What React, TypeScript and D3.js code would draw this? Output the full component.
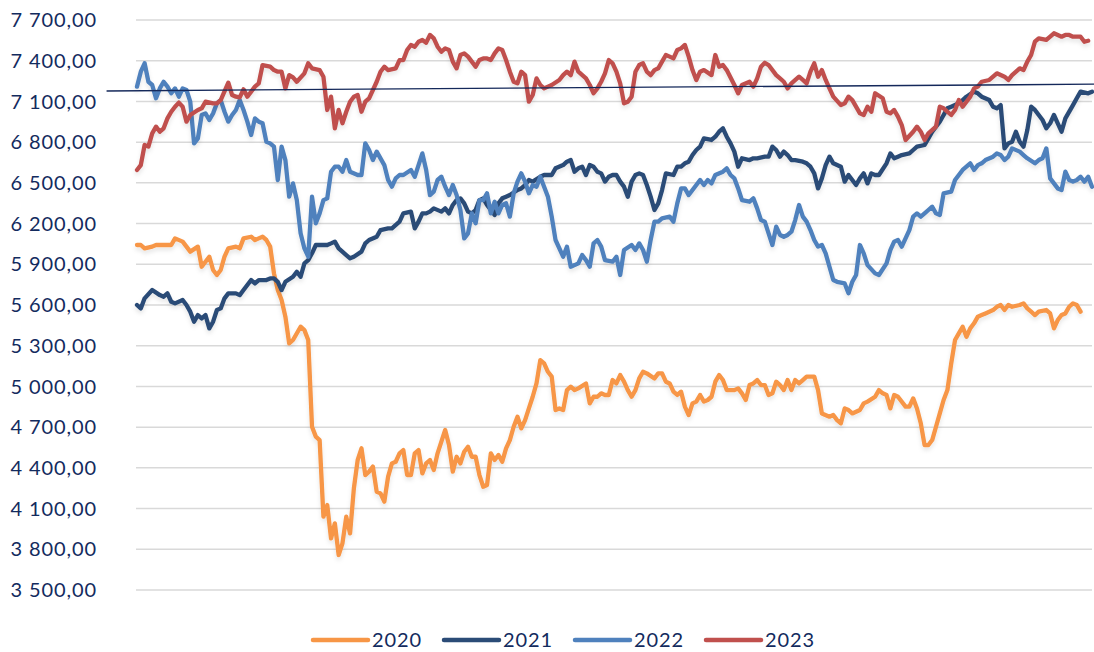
import { useEffect, useRef } from "react";
import * as d3 from "d3";

// y axis tick values
const yTicks = [3500, 3800, 4100, 4400, 4700, 5000, 5300, 5600, 5900, 6200, 6500, 6800, 7100, 7400, 7700];

const years = ["2020", "2021", "2022", "2023"];
const colors = ["#F79646", "#2B4C77", "#4F81BD", "#C0504D"];

// [trading day, index value]
const s2020: [number, number][] = [
  [0,6042],[1,6042],[2,6017],[4,6030],[5,6042],[6,6042],[8,6042],[9,6042],[10,6091],[12,6067],[13,6030],[14,5993],[16,6030],[17,5882],[18,5919],[19,5956],[20,5858],[21,5821],[22,5858],[23,5956],[24,6017],[26,6030],[27,6017],[28,6091],[30,6103],[31,6079],[32,6091],[33,6103],[34,6079],[35,6030],[36,5833],[37,5710],[38,5637],[39,5514],[40,5317],[41,5342],[43,5440],[44,5415],[45,5342],[46,4703],[47,4630],[48,4605],[49,4040],[50,4126],[51,3880],[52,3991],[53,3758],[54,3844],[55,4040],[56,3917],[57,4249],[58,4458],[59,4544],[60,4347],[61,4372],[62,4409],[63,4224],[64,4212],[65,4151],[66,4335],[67,4433],[68,4445],[69,4507],[70,4531],[71,4347],[72,4347],[73,4507],[74,4531],[75,4359],[76,4433],[77,4458],[78,4384],[79,4507],[80,4593],[81,4679],[82,4568],[83,4372],[84,4482],[85,4433],[86,4519],[87,4556],[88,4482],[89,4482],[90,4347],[91,4261],[92,4274],[93,4507],[94,4458],[95,4495],[96,4445],[97,4544],[98,4605],[99,4703],[100,4777],[101,4691],[102,4752],[103,4838],[104,4924],[105,5022],[106,5194],[107,5170],[108,5108],[109,5072],[110,4826],[111,4838],[112,4826],[113,4973],[114,4998],[115,4973],[116,4986],[118,5022],[119,4875],[120,4924],[121,4924],[122,4949],[123,4937],[124,4937],[125,5047],[126,5022],[127,5084],[128,5035],[129,4973],[130,4924],[131,4973],[132,5059],[133,5108],[134,5096],[136,5059],[137,5096],[138,5096],[139,5035],[140,5022],[141,4961],[142,4937],[143,4961],[144,4851],[145,4789],[146,4875],[147,4888],[148,4937],[149,4888],[150,4900],[151,4924],[152,5035],[153,5084],[154,5047],[155,4973],[157,4973],[158,4986],[159,4949],[160,4900],[161,5010],[162,5022],[163,5047],[164,5010],[165,5010],[166,4937],[167,4949],[168,5035],[169,5010],[170,4973],[171,5047],[172,4973],[173,5047],[174,5022],[175,5047],[176,5072],[178,5072],[179,4973],[180,4801],[182,4777],[183,4789],[184,4752],[185,4728],[186,4838],[187,4826],[188,4801],[190,4826],[191,4875],[192,4888],[194,4924],[195,4973],[196,4949],[197,4937],[198,4838],[199,4937],[200,4924],[202,4851],[203,4851],[204,4912],[205,4838],[206,4728],[207,4568],[208,4568],[209,4605],[210,4703],[211,4801],[212,4900],[213,4973],[214,5170],[215,5342],[216,5391],[217,5440],[218,5366],[219,5428],[220,5465],[221,5514],[222,5526],[223,5538],[225,5563],[226,5587],[227,5600],[228,5563],[229,5600],[230,5587],[232,5600],[233,5612],[234,5575],[235,5551],[236,5526],[237,5551],[239,5563],[240,5538],[241,5428],[242,5489],[243,5526],[244,5538],[245,5587],[246,5612],[247,5600],[248,5551],
];

const s2021: [number, number][] = [
  [0,5600],[1,5575],[2,5649],[4,5710],[6,5673],[7,5661],[8,5686],[9,5624],[10,5612],[12,5637],[13,5600],[14,5551],[15,5477],[16,5526],[17,5501],[18,5526],[19,5428],[20,5477],[21,5563],[22,5575],[23,5649],[24,5686],[26,5686],[27,5673],[28,5710],[30,5784],[31,5759],[32,5784],[34,5784],[35,5796],[36,5796],[37,5771],[38,5710],[39,5771],[41,5808],[42,5845],[43,5808],[44,5907],[45,5931],[46,5981],[47,6042],[48,6042],[50,6042],[51,6054],[52,6067],[53,6017],[55,5968],[56,5944],[57,5956],[59,5993],[60,6054],[61,6079],[63,6103],[64,6152],[66,6165],[67,6165],[69,6214],[70,6275],[72,6288],[73,6165],[74,6214],[75,6275],[76,6275],[77,6288],[78,6312],[80,6288],[81,6312],[82,6275],[83,6337],[84,6373],[85,6386],[86,6349],[87,6288],[88,6275],[89,6300],[90,6373],[91,6386],[92,6337],[94,6263],[95,6349],[96,6386],[97,6398],[98,6410],[100,6447],[101,6459],[102,6484],[103,6521],[104,6509],[106,6545],[107,6558],[108,6558],[109,6558],[110,6607],[112,6631],[113,6656],[114,6668],[115,6582],[116,6607],[117,6619],[118,6558],[119,6631],[120,6619],[121,6582],[122,6570],[123,6509],[124,6545],[125,6558],[126,6558],[127,6509],[128,6472],[129,6398],[130,6509],[131,6558],[132,6570],[133,6558],[134,6484],[135,6398],[136,6300],[137,6349],[138,6447],[139,6570],[141,6558],[142,6619],[143,6619],[144,6644],[145,6656],[146,6705],[147,6742],[148,6767],[149,6828],[151,6816],[152,6840],[153,6877],[154,6902],[155,6840],[156,6791],[157,6730],[158,6619],[159,6681],[161,6668],[162,6681],[163,6681],[165,6693],[166,6693],[167,6767],[168,6742],[169,6693],[170,6730],[171,6705],[172,6668],[173,6668],[175,6656],[176,6644],[177,6619],[178,6570],[179,6459],[180,6533],[181,6631],[182,6693],[183,6644],[185,6619],[186,6509],[187,6558],[188,6521],[189,6484],[190,6533],[191,6570],[192,6496],[193,6570],[194,6558],[195,6558],[197,6644],[198,6717],[199,6681],[200,6693],[201,6705],[203,6717],[204,6742],[205,6767],[207,6779],[208,6828],[209,6877],[211,6951],[212,7000],[213,7049],[214,7061],[216,7086],[217,7110],[218,7135],[220,7172],[221,7160],[222,7135],[224,7110],[225,7061],[226,7049],[227,7073],[228,6754],[229,6791],[230,6803],[231,6877],[232,6803],[233,6767],[234,6889],[235,7061],[236,7037],[237,7000],[238,6963],[239,6902],[240,6939],[241,7000],[242,6939],[243,6877],[244,6975],[246,7073],[247,7123],[248,7172],[250,7160],[251,7172],
];

const s2022: [number, number][] = [
  [0,7209],[1,7319],[2,7381],[3,7245],[4,7221],[5,7123],[6,7196],[7,7245],[8,7209],[9,7160],[10,7196],[11,7135],[12,7196],[13,7184],[14,7098],[15,6791],[16,6828],[17,7000],[18,7012],[19,6963],[20,7012],[21,7086],[22,7110],[23,7024],[24,6951],[25,7000],[26,7037],[27,7110],[28,7037],[29,6951],[30,6853],[31,6975],[32,6951],[33,6939],[34,6803],[35,6791],[36,6767],[37,6521],[38,6767],[39,6668],[40,6398],[41,6496],[42,6373],[43,6128],[44,6017],[45,5956],[46,6398],[47,6202],[48,6275],[49,6373],[50,6386],[51,6582],[52,6619],[53,6619],[54,6582],[55,6668],[56,6582],[58,6558],[59,6558],[60,6791],[61,6742],[62,6668],[63,6730],[65,6631],[66,6521],[67,6472],[68,6533],[69,6558],[70,6558],[72,6595],[73,6545],[74,6631],[75,6717],[76,6595],[77,6410],[78,6435],[79,6521],[80,6545],[81,6472],[82,6410],[83,6484],[84,6410],[85,6300],[86,6091],[87,6128],[88,6275],[89,6202],[90,6373],[91,6373],[92,6423],[93,6275],[94,6361],[95,6275],[96,6337],[97,6349],[98,6251],[99,6423],[100,6509],[101,6570],[102,6509],[103,6423],[104,6484],[105,6472],[106,6545],[107,6472],[108,6398],[109,6251],[110,6079],[112,5956],[113,6030],[114,5882],[115,5894],[116,5907],[117,5968],[118,5931],[119,5882],[120,6054],[121,6079],[122,6030],[123,5931],[125,5919],[126,5956],[127,5821],[128,6005],[130,6042],[131,6005],[132,6054],[133,6005],[134,5919],[135,6079],[136,6214],[137,6214],[138,6239],[140,6251],[141,6214],[142,6349],[143,6459],[144,6459],[145,6410],[147,6484],[148,6521],[149,6484],[150,6521],[151,6496],[152,6558],[154,6582],[155,6607],[156,6558],[157,6533],[158,6459],[159,6373],[161,6361],[162,6386],[163,6312],[164,6226],[165,6214],[166,6128],[167,6042],[168,6177],[169,6116],[170,6103],[171,6116],[172,6140],[173,6226],[174,6337],[175,6251],[176,6214],[177,6152],[178,6079],[179,6030],[180,6042],[181,5981],[182,5882],[183,5784],[184,5771],[186,5759],[187,5686],[188,5771],[189,5821],[190,6042],[191,5981],[192,5894],[194,5833],[195,5821],[197,5907],[198,6005],[199,6067],[200,6079],[201,6030],[202,6091],[203,6152],[204,6251],[205,6275],[206,6251],[207,6275],[208,6300],[209,6324],[210,6275],[211,6263],[212,6423],[214,6435],[215,6521],[217,6595],[218,6619],[219,6644],[220,6595],[221,6631],[222,6644],[223,6668],[225,6693],[226,6717],[227,6705],[228,6668],[229,6693],[230,6754],[232,6730],[233,6705],[234,6681],[236,6644],[237,6668],[238,6681],[239,6754],[240,6533],[242,6459],[243,6447],[244,6582],[245,6521],[246,6509],[247,6521],[248,6545],[249,6509],[250,6545],[251,6472],
];

const s2023: [number, number][] = [
  [0,6595],[1,6631],[2,6779],[3,6767],[4,6865],[5,6914],[6,6877],[7,6902],[8,6975],[9,7024],[10,7061],[11,7091],[12,7061],[13,6951],[14,7000],[16,7037],[17,7049],[18,7098],[20,7086],[21,7086],[22,7110],[24,7238],[25,7147],[26,7135],[27,7130],[28,7189],[29,7135],[31,7209],[32,7233],[33,7368],[35,7356],[36,7331],[37,7319],[38,7319],[39,7196],[40,7294],[41,7277],[42,7245],[44,7307],[45,7381],[46,7344],[48,7331],[49,7282],[50,7037],[51,7135],[52,6902],[53,7037],[54,6939],[55,7024],[56,7098],[57,7135],[58,7147],[59,7024],[60,7098],[61,7123],[63,7245],[64,7319],[65,7356],[66,7331],[68,7344],[69,7405],[70,7405],[71,7479],[72,7516],[73,7503],[74,7540],[75,7553],[76,7533],[77,7590],[78,7565],[79,7503],[80,7466],[81,7491],[82,7479],[83,7393],[84,7344],[85,7442],[86,7454],[87,7430],[88,7393],[89,7356],[90,7405],[91,7417],[92,7417],[93,7405],[94,7454],[95,7491],[96,7479],[97,7405],[98,7319],[99,7245],[100,7233],[101,7319],[102,7294],[103,7098],[104,7147],[105,7270],[106,7221],[107,7196],[108,7209],[109,7221],[111,7258],[112,7294],[113,7319],[114,7294],[115,7393],[116,7319],[118,7270],[119,7221],[120,7160],[121,7196],[122,7245],[123,7307],[124,7405],[125,7381],[126,7319],[127,7233],[128,7086],[129,7098],[130,7135],[131,7319],[132,7368],[133,7381],[134,7319],[135,7294],[136,7331],[137,7344],[138,7393],[139,7442],[140,7430],[141,7417],[142,7479],[143,7491],[144,7516],[145,7430],[146,7331],[147,7258],[148,7319],[149,7331],[151,7294],[152,7442],[153,7356],[154,7368],[155,7331],[157,7221],[158,7160],[159,7221],[161,7245],[162,7209],[163,7270],[164,7356],[165,7385],[166,7368],[168,7294],[169,7270],[170,7245],[171,7196],[172,7233],[174,7282],[175,7258],[176,7233],[177,7319],[178,7381],[179,7282],[180,7331],[181,7258],[182,7196],[183,7135],[185,7073],[186,7086],[187,7135],[188,7110],[190,7012],[191,7000],[192,7061],[193,7024],[194,7160],[196,7123],[197,7024],[198,7012],[199,7037],[200,6988],[201,6926],[202,6816],[204,6877],[205,6914],[206,6877],[207,6816],[208,6865],[210,6914],[211,7061],[212,7049],[214,7000],[215,7037],[216,7110],[217,7061],[219,7135],[220,7196],[221,7209],[222,7245],[224,7258],[225,7282],[226,7307],[228,7282],[229,7258],[230,7294],[232,7344],[233,7331],[234,7393],[235,7442],[236,7540],[237,7565],[239,7553],[240,7577],[241,7602],[243,7577],[244,7590],[245,7590],[246,7577],[248,7577],[249,7540],[250,7547],
];

const series = [s2020, s2021, s2022, s2023];

// thin reference line drawn across the chart
const trendDays = [-8, 252];
const trendValues = [7177, 7227];

const textColor = "#132B5E";
const font = "Lato, 'Open Sans', sans-serif";

export default function App() {
  const svgRef = useRef<SVGSVGElement>(null);

  useEffect(() => {
    if (!svgRef.current) return;
    const svg = d3.select(svgRef.current);
    svg.selectAll("*").remove();

    const x = d3.scaleLinear().domain([0, 251]).range([137, 1092]);
    const y = d3.scaleLinear().domain([3500, 7700]).range([590, 20]);

    const fmt = d3
      .formatLocale({ decimal: ",", thousands: " ", grouping: [3], currency: ["", ""] })
      .format(",.2f");

    const defs = svg.append("defs");
    const filter = defs.append("filter").attr("id", "shadow").attr("x", "-5%").attr("y", "-10%").attr("width", "110%").attr("height", "130%");
    filter
      .append("feDropShadow")
      .attr("dx", 0)
      .attr("dy", 3)
      .attr("stdDeviation", 2)
      .attr("flood-color", "#000")
      .attr("flood-opacity", 0.1);

    // grid
    svg
      .append("g")
      .selectAll("line")
      .data(yTicks)
      .enter()
      .append("line")
      .attr("x1", 136)
      .attr("x2", 1092)
      .attr("y1", (d) => y(d))
      .attr("y2", (d) => y(d))
      .attr("stroke", "#D9D9D9")
      .attr("stroke-width", 1.5);

    // y labels
    svg
      .append("g")
      .selectAll("text")
      .data(yTicks)
      .enter()
      .append("text")
      .attr("x", 97)
      .attr("y", (d) => y(d))
      .attr("dy", "0.36em")
      .attr("text-anchor", "end")
      .attr("font-family", font)
      .attr("font-size", 20)
      .attr("letter-spacing", 0.9)
      .attr("fill", textColor)
      .text((d) => fmt(d));

    const line = d3
      .line<[number, number]>()
      .x((d) => x(d[0]))
      .y((d) => y(d[1]));

    svg
      .append("g")
      .selectAll("path")
      .data(series)
      .enter()
      .append("path")
      .attr("d", (d) => line(d))
      .attr("fill", "none")
      .attr("stroke", (_, i) => colors[i])
      .attr("stroke-width", 4.3)
      .attr("stroke-linejoin", "round")
      .attr("stroke-linecap", "round")
      .attr("filter", "url(#shadow)");

    svg
      .append("line")
      .attr("x1", x(trendDays[0]))
      .attr("x2", x(trendDays[1]))
      .attr("y1", y(trendValues[0]))
      .attr("y2", y(trendValues[1]))
      .attr("stroke", "#14285A")
      .attr("stroke-width", 1.3);

    // legend
    const legend = svg
      .append("g")
      .selectAll("g")
      .data(years)
      .enter()
      .append("g")
      .attr("transform", (_, i) => `translate(${313 + i * 131},640)`);
    legend
      .append("line")
      .attr("x1", 0)
      .attr("x2", 55)
      .attr("stroke", (_, i) => colors[i])
      .attr("stroke-width", 4.5)
      .attr("stroke-linecap", "round");
    legend
      .append("text")
      .attr("x", 59)
      .attr("dy", "0.36em")
      .attr("font-family", font)
      .attr("font-size", 20)
      .attr("letter-spacing", 0.9)
      .attr("fill", textColor)
      .text((d) => d);
  }, []);

  return (
    <svg
      ref={svgRef}
      width={1094}
      height={652}
      style={{ position: "absolute", left: 0, top: 0, background: "#fff" }}
    />
  );
}
